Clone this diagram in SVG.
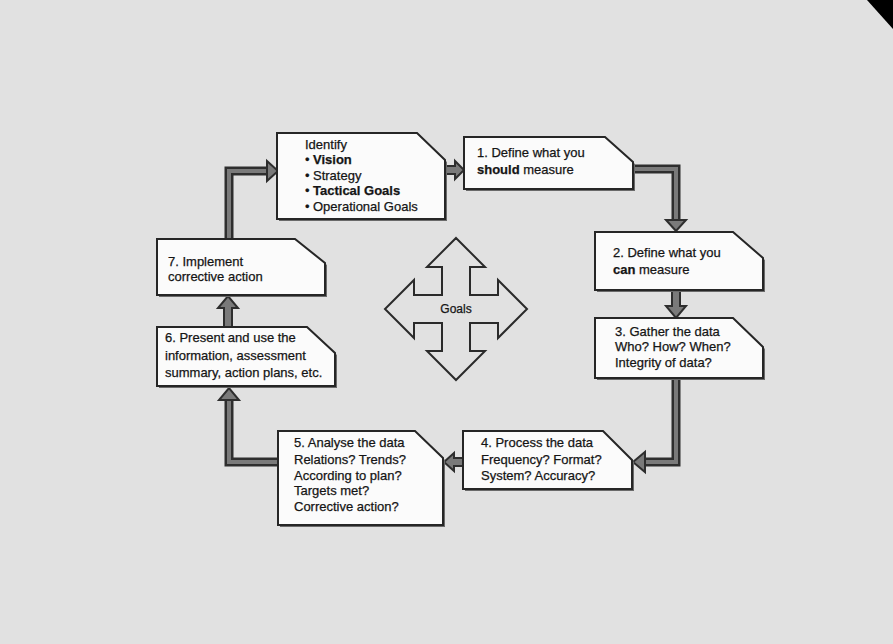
<svg xmlns="http://www.w3.org/2000/svg" width="893" height="644" viewBox="0 0 893 644">
<style>
.bg{fill:#e1e1e1}
.box{fill:#fbfbfb;stroke:#262626;stroke-width:2;stroke-linejoin:miter}
.shadow{fill:#6a6a6a}
.t{font-family:"Liberation Sans",Arial,sans-serif;font-size:13px;fill:#151515;stroke:#151515;stroke-width:0.25}
.b{font-weight:bold}
.outer{fill:none;stroke:#2e2e2e;stroke-width:9;stroke-linejoin:miter}
.inner{fill:none;stroke:#7a7a7a;stroke-width:4;stroke-linejoin:miter}
.head{fill:#7a7a7a;stroke:#2e2e2e;stroke-width:2;stroke-linejoin:miter}
.goals{fill:#e1e1e1;stroke:#2a2a2a;stroke-width:2;stroke-linejoin:miter}
</style>
<rect class="bg" x="0" y="0" width="893" height="644"/>
<polygon points="867,0 893,0 893,29" fill="#000"/>

<g id="connectors">
  <path class="outer" d="M633,169 H676 V221"/>
  <path class="inner" d="M633,169 H676 V221"/>
  <polygon class="head" points="666,220 686,220 676,231"/>

  <path class="outer" d="M676,378 V462 H645"/>
  <path class="inner" d="M676,378 V462 H645"/>
  <polygon class="head" points="645,452 645,472 633,462"/>

  <path class="outer" d="M278,462 H229 V399"/>
  <path class="inner" d="M278,462 H229 V399"/>
  <polygon class="head" points="219,400 239,400 229,388"/>

  <path class="outer" d="M229,239 V171 H268"/>
  <path class="inner" d="M229,239 V171 H268"/>
  <polygon class="head" points="267,161 267,181 278,171"/>

  <polygon class="head" points="446,166 455,166 455,161 464,170 455,179 455,174 446,174"/>
  <polygon class="head" points="672,290 680,290 680,306 686,306 676,318 666,306 672,306"/>
  <polygon class="head" points="463,458 454,458 454,453 444,462 454,471 454,466 463,466"/>
  <polygon class="head" points="224,327 232,327 232,308 238,308 228,296 218,308 224,308"/>
</g>

<g id="identify">
  <path class="shadow" d="M279,135 H419 L447,162 V221 H279 Z"/>
  <path class="box" d="M277,133 H417 L445,160 V219 H277 Z"/>
  <text class="t" x="305" y="149">Identify</text>
  <text class="t" y="164"><tspan x="305">•</tspan><tspan x="313" class="b">Vision</tspan></text>
  <text class="t" y="180"><tspan x="305">•</tspan><tspan x="313">Strategy</tspan></text>
  <text class="t" y="195"><tspan x="305">•</tspan><tspan x="313" class="b">Tactical Goals</tspan></text>
  <text class="t" y="211"><tspan x="305">•</tspan><tspan x="313">Operational Goals</tspan></text>
</g>

<g id="step1">
  <path class="shadow" d="M466,139 H607 L635,164 V191 H466 Z"/>
  <path class="box" d="M464,137 H605 L633,162 V189 H464 Z"/>
  <text class="t" x="477" y="157">1. Define what you</text>
  <text class="t" x="477" y="174"><tspan class="b">should</tspan> measure</text>
</g>

<g id="step2">
  <path class="shadow" d="M597,234 H735 L765,260 V292 H597 Z"/>
  <path class="box" d="M595,232 H733 L763,258 V290 H595 Z"/>
  <text class="t" x="613" y="257">2. Define what you</text>
  <text class="t" x="613" y="274"><tspan class="b">can</tspan> measure</text>
</g>

<g id="step3">
  <path class="shadow" d="M597,320 H735 L765,349 V380 H597 Z"/>
  <path class="box" d="M595,318 H733 L763,347 V378 H595 Z"/>
  <text class="t" x="615" y="336">3. Gather the data</text>
  <text class="t" x="615" y="351">Who? How? When?</text>
  <text class="t" x="615" y="367">Integrity of data?</text>
</g>

<g id="step4">
  <path class="shadow" d="M465,433 H605 L634,462 V491 H465 Z"/>
  <path class="box" d="M463,431 H603 L632,460 V489 H463 Z"/>
  <text class="t" x="481" y="447">4. Process the data</text>
  <text class="t" x="481" y="464">Frequency? Format?</text>
  <text class="t" x="481" y="480">System? Accuracy?</text>
</g>

<g id="step5">
  <path class="shadow" d="M280,433 H417 L445,460 V527 H280 Z"/>
  <path class="box" d="M278,431 H415 L443,458 V525 H278 Z"/>
  <text class="t" x="294" y="447">5. Analyse the data</text>
  <text class="t" x="294" y="464">Relations? Trends?</text>
  <text class="t" x="294" y="480">According to plan?</text>
  <text class="t" x="294" y="495">Targets met?</text>
  <text class="t" x="294" y="511">Corrective action?</text>
</g>

<g id="step6">
  <path class="shadow" d="M159,329 H309 L337,355 V388 H159 Z"/>
  <path class="box" d="M157,327 H307 L335,353 V386 H157 Z"/>
  <text class="t" x="165" y="342">6. Present and use the</text>
  <text class="t" x="165" y="360">information, assessment</text>
  <text class="t" x="165" y="377">summary, action plans, etc.</text>
</g>

<g id="step7">
  <path class="shadow" d="M159,241 H297 L327,265 V297 H159 Z"/>
  <path class="box" d="M157,239 H295 L325,263 V295 H157 Z"/>
  <text class="t" x="168" y="266">7. Implement</text>
  <text class="t" x="168" y="281">corrective action</text>
</g>

<g id="goals">
  <polygon class="goals" points="456,238 485,267 470,267 470,295 498,295 498,280 527,309 498,338 498,323 470,323 470,351 485,351 456,380 427,351 442,351 442,323 414,323 414,338 385,309 414,280 414,295 442,295 442,267 427,267"/>
  <text class="t" x="456" y="313" text-anchor="middle" style="font-size:12px">Goals</text>
</g>
</svg>
